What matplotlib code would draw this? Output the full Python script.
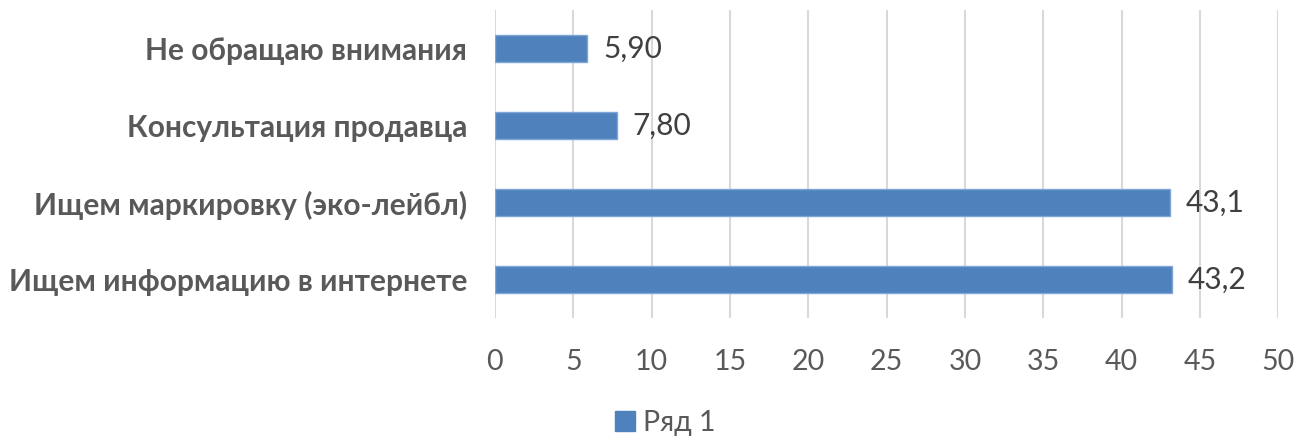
import matplotlib
matplotlib.use("Agg")
import matplotlib.pyplot as plt
from matplotlib.patches import Patch

# Chart data (bottom to top as drawn)
categories = ["Ищем информацию в интернете", "Ищем маркировку (эко-лейбл)",
              "Консультация продавца", "Не обращаю внимания"]
values = [43.2, 43.1, 7.8, 5.9]
value_labels = ["43,2", "43,1", "7,80", "5,90"]
series_name = "Ряд 1"
x_ticks = [0, 5, 10, 15, 20, 25, 30, 35, 40, 45, 50]

plt.rcParams['font.family'] = ['Lato', 'DejaVu Sans']

BAR = '#4F81BD'
GRID = '#D9D9D9'
TXT = '#595959'

fig = plt.figure(figsize=(12.99, 4.36), dpi=100)
ax = fig.add_axes([0.381, 0.2706, 0.984 - 0.381, 0.977 - 0.2706])

y = range(len(categories))
ax.barh(y, values, height=0.35, color=BAR, edgecolor='#7FA6D6', linewidth=1, zorder=3)

for yi, v, lab in zip(y, values, value_labels):
    ax.text(v + 1.0, yi, lab, va='center', ha='left', fontsize=21.5, color='#404040')

ax.set_xlim(0, 50)
ax.set_ylim(-0.5, len(categories) - 0.5)
ax.set_xticks(x_ticks)
ax.set_xticklabels([str(t) for t in x_ticks])
ax.set_yticks(list(y))
ax.set_yticklabels(categories, fontsize=21.5, fontweight='bold', color=TXT)

ax.grid(axis='x', color=GRID, linewidth=1.5, zorder=0)
for s in ax.spines.values():
    s.set_visible(False)
ax.tick_params(axis='x', length=0, pad=22, labelsize=20.5, labelcolor=TXT)
ax.tick_params(axis='y', length=0, pad=20)

fig.legend(handles=[Patch(facecolor=BAR, edgecolor=BAR)], labels=[series_name],
           loc='center', bbox_to_anchor=(0.512, 0.03), frameon=False,
           fontsize=20.5, labelcolor=TXT, handlelength=0.7, handleheight=0.7,
           handletextpad=0.3)

fig.savefig("out.png", dpi=100)
